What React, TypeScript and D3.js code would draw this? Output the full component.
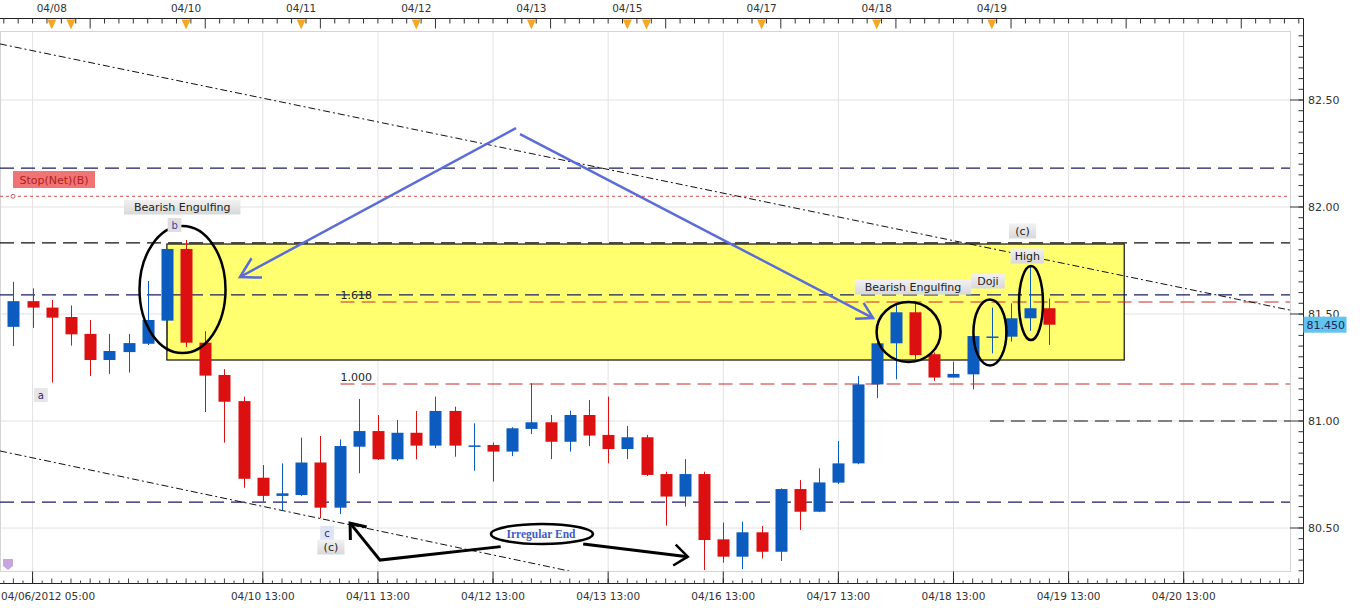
import React from "react";
import * as d3 from "d3";

// ---------- DATA ----------
const candleOpen = [81.44,81.56,81.53,81.486,81.407,81.285,81.322,81.361,81.469,81.804,81.366,81.215,81.093,80.735,80.65,80.654,80.806,80.595,80.88,80.953,80.821,80.945,80.885,81.047,80.884,80.888,80.857,80.963,80.994,80.903,81.028,80.935,80.869,80.924,80.752,80.647,80.752,80.447,80.366,80.48,80.389,80.682,80.576,80.712,80.802,81.171,81.363,81.508,81.312,81.203,81.218,81.393,81.394,81.48,81.527];
const candleHigh = [81.65,81.62,81.565,81.54,81.472,81.407,81.407,81.654,81.805,81.846,81.42,81.242,81.114,80.794,80.802,80.922,80.93,80.914,81.103,81.028,81.005,81.047,81.114,81.067,80.989,80.899,80.971,81.176,81.028,81.048,81.098,81.114,80.977,80.935,80.763,80.822,80.763,80.525,80.53,80.509,80.685,80.724,80.779,80.907,81.21,81.368,81.55,81.55,81.32,81.277,81.4,81.53,81.55,81.721,81.573];
const candleLow = [81.35,81.435,81.18,81.352,81.21,81.22,81.226,81.355,81.324,81.346,81.042,80.899,80.688,80.623,80.581,80.65,80.545,80.565,80.756,80.818,80.813,80.821,80.873,80.833,80.768,80.717,80.836,80.939,80.822,80.857,80.883,80.802,80.822,80.743,80.511,80.6,80.304,80.338,80.308,80.358,80.346,80.491,80.574,80.706,80.798,81.107,81.195,81.277,81.187,81.203,81.148,81.316,81.371,81.421,81.355];
const candleClose = [81.56,81.53,81.483,81.405,81.285,81.327,81.364,81.472,81.804,81.366,81.212,81.09,80.73,80.65,80.662,80.806,80.595,80.883,80.953,80.821,80.945,80.885,81.047,80.885,80.886,80.857,80.966,80.994,80.903,81.028,80.932,80.869,80.924,80.748,80.647,80.752,80.444,80.366,80.48,80.389,80.682,80.576,80.713,80.802,81.171,81.363,81.508,81.308,81.203,81.22,81.397,81.395,81.48,81.527,81.45];

const priceTicks = [82.5, 82.0, 81.5, 81.0, 80.5];
const priceTickLabels = ["82.50", "82.00", "81.50", "81.00", "80.50"];

const bottomTickIdx = [1, 13, 19, 25, 31, 37, 43, 49, 55, 61];
const bottomTickLabels = ["04/06/2012 05:00", "04/10 13:00", "04/11 13:00", "04/12 13:00", "04/13 13:00", "04/16 13:00", "04/17 13:00", "04/18 13:00", "04/19 13:00", "04/20 13:00"];

const topLabelIdx = [2, 9, 15, 21, 27, 32, 39, 45, 51];
const topLabels = ["04/08", "04/10", "04/11", "04/12", "04/13", "04/15", "04/17", "04/18", "04/19"];
const eventMarkerIdx = [2, 3, 9, 15, 21, 27, 32, 33, 39, 45, 51];

// horizontal levels
const levelPrices = [82.182, 82.05, 81.832, 81.589, 81.556, 81.173, 81.0, 80.621];
const levelKinds = ["navy", "stop", "black", "navy", "red", "red", "black", "navy"];
const levelStart = [-1, -1, -1, -1, 17.05, 17.05, 50.9, -1];

const fibLabels = ["1.618", "1.000"];
const fibPrices = [81.556, 81.173];

const zoneIdx = [8.0, 57.9];
const zonePrice = [81.827, 81.285];

const upperTrendIdx = [-0.7, 66.6];
const upperTrendPrice = [82.762, 81.517];
const lowerTrendIdx = [-0.7, 30.5];
const lowerTrendPrice = [80.86, 80.27];

// annotation tags: text, index, price
const tagTexts = ["Bearish Engulfing", "b", "a", "c", "(c)", "Bearish Engulfing", "Doji", "(c)", "High"];
const tagIdx = [8.8, 8.4, 1.43, 16.35, 16.55, 46.89, 50.8, 52.6, 52.85];
const tagPrice = [82.0, 81.916, 81.121, 80.477, 80.411, 81.626, 81.654, 81.888, 81.771];

const lastPrice = 81.45;

// ---------- LAYOUT ----------
const W = 1360, H = 608;
const plotL = 0, plotR = 1290, plotT = 31, plotB = 571;
const axisX = 1303.5, topAxisY = 18.5, bottomAxisY = 583.5;

const x = d3.scaleLinear().domain([0, 54]).range([13.4, 1049.4]);
const y = d3.scaleLinear().domain([80.5, 82.5]).range([528, 100]);

const BLUE = "#0b5cbe";
const RED = "#dc1010";
const NAVY = "#1c1c66";
const FONT = "DejaVu Sans, Verdana, sans-serif";

function Tag({ cx, cy, text, fs = 11, fill = "url(#tagGrad)", color = "#222", pad = 4 }: any) {
  const w = text.length * fs * 0.58 + pad * 2;
  const h = fs + 4;
  return (
    <g>
      <rect x={cx - w / 2} y={cy - h / 2} width={w} height={h} fill={fill} />
      <text x={cx} y={cy + fs * 0.36} textAnchor="middle" fontSize={fs} fontFamily={FONT} fill={color}>{text}</text>
    </g>
  );
}

function ArrowHead({ x1, y1, x2, y2, len = 16, ang = 28, stroke, sw }: any) {
  const a = Math.atan2(y1 - y2, x1 - x2);
  const r = (ang * Math.PI) / 180;
  const p1 = [x2 + len * Math.cos(a + r), y2 + len * Math.sin(a + r)];
  const p2 = [x2 + len * Math.cos(a - r), y2 + len * Math.sin(a - r)];
  return (
    <path d={`M${p1[0]},${p1[1]} L${x2},${y2} L${p2[0]},${p2[1]}`} fill="none" stroke={stroke} strokeWidth={sw} strokeLinejoin="miter" />
  );
}

export default function App() {
  const n = candleOpen.length;
  const bodyW = 12;

  const topMinor: number[] = [];
  for (let t = -5; t <= 70; t += 0.75) topMinor.push(t);
  const bottomMinor: number[] = [];
  for (let t = -1; t <= 68; t += 0.5) bottomMinor.push(t);
  const priceMinor: number[] = [];
  for (let v = 80.3; v <= 82.81; v += 0.05) priceMinor.push(+v.toFixed(2));

  const levelStyle = (k: string) => {
    if (k === "navy") return { stroke: NAVY, dash: "14 7", w: 1.2 };
    if (k === "black") return { stroke: "#111", dash: "14 7", w: 1.2 };
    if (k === "red") return { stroke: "#c82828", dash: "14 7", w: 1.2 };
    return { stroke: "#d05050", dash: "3 3", w: 1 };
  };

  const apex = [x(26.2), y(82.369)];
  const leftTip = [x(11.81), y(81.673)];
  const rightTip = [x(44.81), y(81.481)];
  const bTip = [x(17.55), y(80.523)];
  const bElbow = [x(19.11), y(80.35)];
  const bMid = [x(25.4), y(80.413)];
  const bRight0 = [x(29.7), y(80.425)];
  const bTip2 = [x(35.15), y(80.366)];

  return (
    <svg width={W} height={H} style={{ position: "fixed", left: 0, top: 0, background: "#fff" }} fontFamily={FONT}>
      <defs>
        <linearGradient id="tagGrad" x1="0" y1="0" x2="0" y2="1">
          <stop offset="0" stopColor="#f2f2f2" />
          <stop offset="1" stopColor="#d8d8d8" />
        </linearGradient>
        <clipPath id="plotClip">
          <rect x={plotL} y={plotT} width={plotR - plotL} height={plotB - plotT} />
        </clipPath>
      </defs>
      <rect width={W} height={H} fill="#fff" />

      {/* grid */}
      {bottomTickIdx.map((i) => (
        <line key={"vg" + i} x1={x(i)} x2={x(i)} y1={plotT} y2={plotB} stroke="#e2e2e2" />
      ))}
      {priceTicks.map((v) => (
        <line key={"hg" + v} x1={plotL} x2={plotR} y1={y(v)} y2={y(v)} stroke="#e2e2e2" />
      ))}
      <rect x={plotL + 0.5} y={plotT + 0.5} width={plotR - plotL} height={plotB - plotT} fill="none" stroke="#d4d4d4" />

      <g clipPath="url(#plotClip)">
        <rect x={x(zoneIdx[0])} y={y(zonePrice[0])} width={x(zoneIdx[1]) - x(zoneIdx[0])} height={y(zonePrice[1]) - y(zonePrice[0])} fill="#ffff70" stroke="#111" strokeWidth={1.2} />

        {levelPrices.map((p, k) => {
          const s = levelStyle(levelKinds[k]);
          const x0 = levelStart[k] < 0 ? plotL : x(levelStart[k]);
          return <line key={"lv" + k} x1={x0} x2={plotR} y1={y(p)} y2={y(p)} stroke={s.stroke} strokeDasharray={s.dash} strokeWidth={s.w} />;
        })}

        <line x1={x(upperTrendIdx[0])} y1={y(upperTrendPrice[0])} x2={x(upperTrendIdx[1])} y2={y(upperTrendPrice[1])} stroke="#111" strokeWidth={1} strokeDasharray="7 3 2 3" />
        <line x1={x(lowerTrendIdx[0])} y1={y(lowerTrendPrice[0])} x2={x(lowerTrendIdx[1])} y2={y(lowerTrendPrice[1])} stroke="#111" strokeWidth={1} strokeDasharray="7 3 2 3" />

        {d3.range(n).map((i) => {
          const o = candleOpen[i], c = candleClose[i];
          const up = c >= o;
          const col = up ? BLUE : RED;
          const top = y(Math.max(o, c));
          const bot = y(Math.min(o, c));
          const h = Math.max(bot - top, 1.5);
          const cx = Math.round(x(i)) + 0.5;
          return (
            <g key={"c" + i}>
              <line x1={cx} x2={cx} y1={y(candleHigh[i])} y2={y(candleLow[i])} stroke={col} strokeWidth={1} />
              <rect x={cx - bodyW / 2} y={top} width={bodyW} height={h} fill={col} />
            </g>
          );
        })}
      </g>

      {fibLabels.map((t, k) => (
        <text key={"fl" + t} x={x(17.05)} y={y(fibPrices[k]) - 3} fontSize={11} fill="#222">{t}</text>
      ))}

      <rect x={13} y={171} width={82} height={17} fill="#f07474" />
      <text x={54} y={183.5} textAnchor="middle" fontSize={11} fill="#b02020">Stop(Net)(B)</text>
      <circle cx={13} cy={y(82.05)} r={2} fill="#fff" stroke="#c06060" />

      <ellipse cx={x(8.815)} cy={y(81.614)} rx={43} ry={63.5} fill="none" stroke="#000" strokeWidth={2.5} />
      <ellipse cx={x(46.66)} cy={y(81.416)} rx={32} ry={30} fill="none" stroke="#000" strokeWidth={2.5} />
      <ellipse cx={x(50.9)} cy={y(81.414)} rx={16.5} ry={33} fill="none" stroke="#000" strokeWidth={2.5} />
      <ellipse cx={x(53.04)} cy={y(81.551)} rx={12} ry={37} fill="none" stroke="#000" strokeWidth={2.5} />

      <g stroke="#5a6cd8" strokeWidth={2.5} fill="none">
        <line x1={apex[0]} y1={apex[1]} x2={leftTip[0]} y2={leftTip[1]} />
        <line x1={apex[0] + 4} y1={apex[1] + 6} x2={rightTip[0]} y2={rightTip[1]} />
      </g>
      <ArrowHead x1={apex[0]} y1={apex[1]} x2={leftTip[0]} y2={leftTip[1]} stroke="#5a6cd8" sw={2.5} len={22} ang={30} />
      <ArrowHead x1={apex[0]} y1={apex[1]} x2={rightTip[0]} y2={rightTip[1]} stroke="#5a6cd8" sw={2.5} len={18} ang={30} />

      <g stroke="#000" strokeWidth={3} fill="none" strokeLinejoin="miter">
        <path d={`M${bTip[0]},${bTip[1]} L${bElbow[0]},${bElbow[1]} L${bMid[0]},${bMid[1]}`} />
        <line x1={bRight0[0]} y1={bRight0[1]} x2={bTip2[0]} y2={bTip2[1]} />
      </g>
      <ArrowHead x1={bElbow[0]} y1={bElbow[1]} x2={bTip[0]} y2={bTip[1]} stroke="#000" sw={3} len={17} ang={38} />
      <ArrowHead x1={bRight0[0]} y1={bRight0[1]} x2={bTip2[0]} y2={bTip2[1]} stroke="#000" sw={2.5} len={17} ang={38} />
      <ellipse cx={x(27.55)} cy={y(80.472)} rx={51} ry={10} fill="#fff" stroke="#000" strokeWidth={2.5} />
      <text x={x(27.5)} y={y(80.472) + 4} textAnchor="middle" fontSize={11.5} fontWeight="bold" fontFamily="Liberation Serif, serif" fill="#3e5bc8">Irregular End</text>

      {tagTexts.map((t, k) => {
        if (t === "b") return <Tag key={"tg" + k} cx={x(tagIdx[k])} cy={y(tagPrice[k])} text={t} fs={10} color="#3b4aa0" fill="#dedede" />;
        if (t === "a") return <Tag key={"tg" + k} cx={x(tagIdx[k])} cy={y(tagPrice[k])} text={t} fs={10} color="#2a2a70" fill="#e6e6e6" />;
        if (t === "c") return <Tag key={"tg" + k} cx={x(tagIdx[k])} cy={y(tagPrice[k])} text={t} fs={10} color="#2a2a80" fill="#dde4f4" />;
        return <Tag key={"tg" + k} cx={x(tagIdx[k])} cy={y(tagPrice[k])} text={t} />;
      })}

      <path d="M3,559 h10 v7 l-5,4 l-5,-4 z" fill="#c7a6e0" />

      {/* top axis */}
      <line x1={0} x2={axisX} y1={topAxisY} y2={topAxisY} stroke="#222" />
      {topMinor.map((t, k) => {
        const xx = x(t);
        if (xx < 0 || xx > axisX) return null;
        const major = Math.abs(((t - 4) % 6 + 6) % 6) < 0.01;
        return <line key={"tt" + k} x1={xx} x2={xx} y1={topAxisY} y2={topAxisY + (major ? 10 : 5)} stroke="#333" />;
      })}
      {eventMarkerIdx.map((i, k) => (
        <path key={"em" + k} d={`M${x(i) - 4.5},${topAxisY + 1} L${x(i) + 4.5},${topAxisY + 1} L${x(i)},${topAxisY + 11} Z`} fill="#f5a623" />
      ))}
      {topLabels.map((t, k) => (
        <text key={"tl" + k} x={x(topLabelIdx[k])} y={12} textAnchor="middle" fontSize={10.5} fill="#333">{t}</text>
      ))}

      {/* bottom axis */}
      <line x1={0} x2={axisX} y1={bottomAxisY} y2={bottomAxisY} stroke="#222" />
      {bottomMinor.map((t, k) => {
        const xx = x(t);
        if (xx < 0 || xx > axisX) return null;
        const isInt = Math.abs(t - Math.round(t)) < 0.01;
        return <line key={"bt" + k} x1={xx} x2={xx} y1={bottomAxisY} y2={bottomAxisY - (isInt ? 5 : 3)} stroke="#444" />;
      })}
      {bottomTickIdx.map((i) => (
        <line key={"bm" + i} x1={x(i)} x2={x(i)} y1={bottomAxisY} y2={bottomAxisY - 12} stroke="#222" />
      ))}
      {bottomTickLabels.map((t, k) => (
        <text key={"bl" + k} x={k === 0 ? 1 : x(bottomTickIdx[k])} y={600} textAnchor={k === 0 ? "start" : "middle"} fontSize={10.5} fill="#333">{t}</text>
      ))}

      {/* right axis */}
      <line x1={axisX} x2={axisX} y1={topAxisY} y2={bottomAxisY} stroke="#222" />
      {priceMinor.map((v, k) => (
        <line key={"pm" + k} x1={axisX - 5} x2={axisX} y1={y(v)} y2={y(v)} stroke="#333" />
      ))}
      {priceTicks.map((v, k) => (
        <g key={"pt" + v}>
          <line x1={plotR} x2={axisX} y1={y(v)} y2={y(v)} stroke="#333" />
          <text x={1308} y={y(v) + 4} fontSize={11} fill="#333">{priceTickLabels[k]}</text>
        </g>
      ))}
      <rect x={axisX} y={y(lastPrice) - 8} width={43} height={16} fill="#62c4ee" />
      <text x={axisX + 3} y={y(lastPrice) + 4} fontSize={11} fill="#1a2a5a">{lastPrice.toFixed(3)}</text>
    </svg>
  );
}
